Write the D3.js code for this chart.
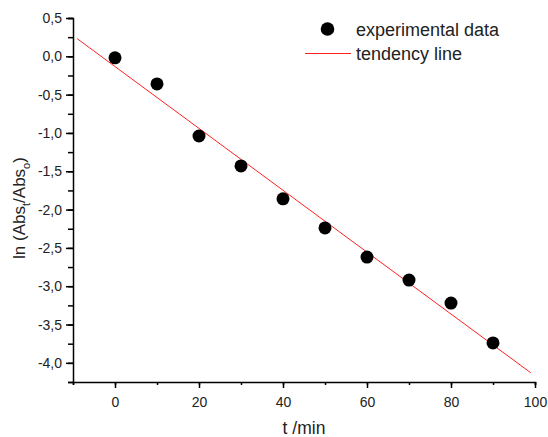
<!DOCTYPE html>
<html>
<head>
<meta charset="utf-8">
<script src="https://cdn.jsdelivr.net/npm/d3@7"></script>
<style>
  body { margin: 0; background: #fff; }
  text { font-family: "Liberation Sans", Arial, sans-serif; fill: #222; }
</style>
</head>
<body>
<script>
// measured points
var times = [0, 10, 20, 30, 40, 50, 60, 70, 80, 90];
var lnValues = [-0.02, -0.36, -1.04, -1.43, -1.86, -2.24, -2.62, -2.92, -3.22, -3.74];
// tendency line end points
var lineTimes = [-9, 99];
var lineValues = [0.23, -4.13];
var xTicks = [0, 20, 40, 60, 80, 100];
var yTicks = [0.5, 0, -0.5, -1, -1.5, -2, -2.5, -3, -3.5, -4];

var w = 548, h = 437;
var padL = 73, padR = 535, padT = 18, padB = 382;

var svg = d3.select("body").append("svg").attr("width", w).attr("height", h);

var x = d3.scaleLinear().domain([-10, 100]).range([padL, padR]);
var y = d3.scaleLinear().domain([-4.25, 0.5]).range([padB, padT]);

var fmt = function(d) { return d3.format(".1f")(d).replace(".", ",").replace("−", "-"); };

// x axis: minor ticks then labelled ticks
var gx = svg.append("g").attr("transform", "translate(0," + padB + ")");
gx.call(d3.axisBottom(x).tickValues(d3.range(-10, 101, 10)).tickSize(3).tickFormat(""));
gx.select(".domain").attr("stroke", "#000").attr("stroke-width", 1.5);
gx.selectAll(".tick line").attr("stroke", "#000").attr("stroke-width", 1.5);
var gx2 = svg.append("g").attr("transform", "translate(0," + padB + ")");
gx2.call(d3.axisBottom(x).tickValues(xTicks).tickSize(6).tickPadding(9).tickFormat(d3.format("d")));
gx2.select(".domain").remove();
gx2.selectAll(".tick line").attr("stroke", "#000").attr("stroke-width", 1.5);
gx2.selectAll(".tick text").attr("font-size", 14).attr("fill", "#222")
  .attr("font-family", "Liberation Sans, Arial, sans-serif");

// y axis
var gy = svg.append("g").attr("transform", "translate(" + padL + ",0)");
gy.call(d3.axisLeft(y).tickValues(d3.range(-17, 3).map(function(i) { return i * 0.25; }))
  .tickSize(5).tickFormat(""));
gy.select(".domain").attr("stroke", "#000").attr("stroke-width", 1.5);
gy.selectAll(".tick line").attr("stroke", "#000").attr("stroke-width", 1.5);
var gy2 = svg.append("g").attr("transform", "translate(" + padL + ",0)");
gy2.call(d3.axisLeft(y).tickValues(yTicks).tickSize(7).tickPadding(4).tickFormat(fmt));
gy2.select(".domain").remove();
gy2.selectAll(".tick line").attr("stroke", "#000").attr("stroke-width", 1.5);
gy2.selectAll(".tick text").attr("font-size", 14).attr("fill", "#222")
  .attr("font-family", "Liberation Sans, Arial, sans-serif");

// tendency line
var lineData = lineTimes.map(function(t, i) { return [t, lineValues[i]]; });
svg.append("path")
  .datum(lineData)
  .attr("fill", "none")
  .attr("stroke", "#ff2020")
  .attr("stroke-width", 1)
  .attr("d", d3.line().x(function(d) { return x(d[0]); }).y(function(d) { return y(d[1]); }));

// points
svg.selectAll("circle.pt")
  .data(times)
  .enter()
  .append("circle")
  .attr("class", "pt")
  .attr("cx", function(d) { return x(d); })
  .attr("cy", function(d, i) { return y(lnValues[i]); })
  .attr("r", 6.5)
  .attr("fill", "#000");

// legend
svg.append("circle").attr("cx", 327.5).attr("cy", 29).attr("r", 6.8).attr("fill", "#000");
svg.append("text").attr("x", 356).attr("y", 36).attr("font-size", 18).text("experimental data");
svg.append("line").attr("x1", 305).attr("x2", 351).attr("y1", 53.5).attr("y2", 53.5)
  .attr("stroke", "#ff2020").attr("stroke-width", 1);
svg.append("text").attr("x", 356).attr("y", 60).attr("font-size", 18).text("tendency line");

// axis titles
svg.append("text").attr("x", 304).attr("y", 434)
  .attr("text-anchor", "middle").attr("font-size", 17.5).text("t /min");

var yl = svg.append("text")
  .attr("transform", "translate(25,208) rotate(-90)")
  .attr("text-anchor", "middle").attr("font-size", 17);
yl.append("tspan").text("ln (Abs");
yl.append("tspan").attr("font-size", 11).attr("dy", 5).text("t");
yl.append("tspan").attr("dy", -5).text("/Abs");
yl.append("tspan").attr("font-size", 11).attr("dy", 5).text("o");
yl.append("tspan").attr("dy", -5).text(")");
</script>
</body>
</html>
